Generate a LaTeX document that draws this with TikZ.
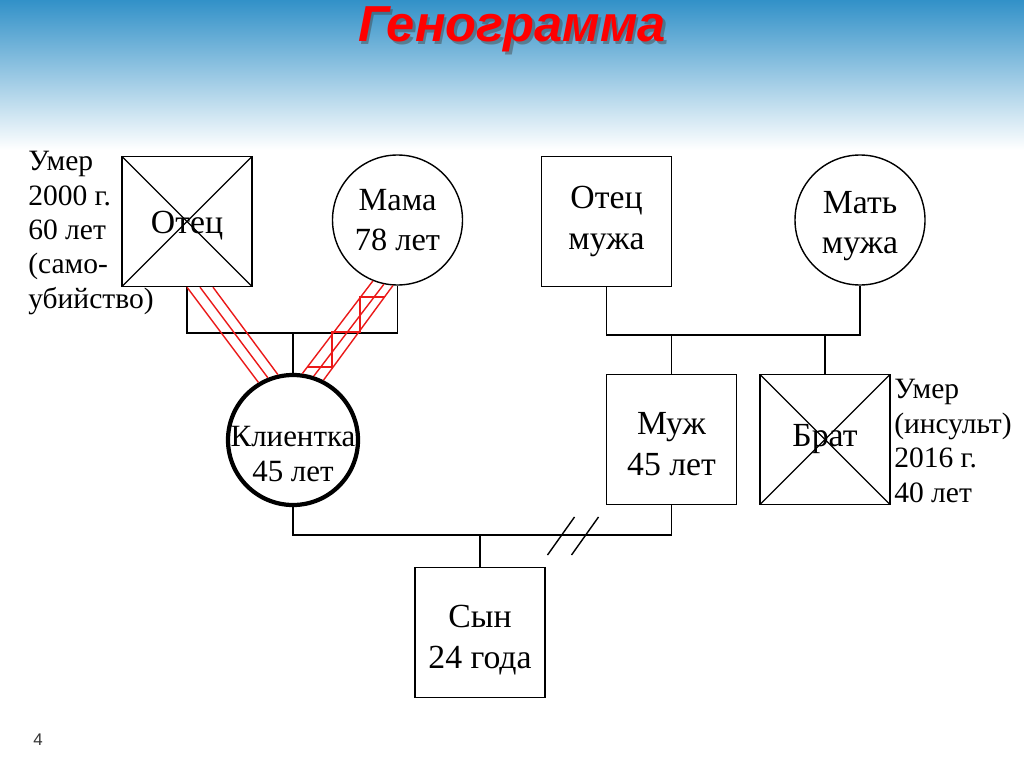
\documentclass[tikz,border=0pt]{standalone}
\usepackage{fontspec}
\setmainfont{Liberation Serif}
\newfontfamily\titlefont{Liberation Sans}
\definecolor{skytop}{RGB}{50,145,200}
\definecolor{skymid}{RGB}{145,203,232}
\definecolor{tiered}{RGB}{235,25,25}

\begin{document}
\begin{tikzpicture}[x=0.25mm, y=-0.25mm,
    male/.style={draw, line width=1pt, rectangle, minimum size=32.5mm, inner sep=0pt, align=center, font=\fontsize{24}{29}\selectfont},
    female/.style={male, circle},
    dead/.style={path picture={\draw[line width=0.8pt] (path picture bounding box.north west) -- (path picture bounding box.south east) (path picture bounding box.north east) -- (path picture bounding box.south west);}},
    persontext/.style={align=center, inner sep=0pt, font=\fontsize{24}{29}\selectfont},
    note/.style={align=left, inner sep=0pt, anchor=west, font=\fontsize{21}{24.5}\selectfont},
    link/.style={line width=1pt},
    conflict/.style={draw=tiered, line width=1pt}]
        % Slide background
        \useasboundingbox (0,0) rectangle (1024,767);
        \fill[white] (0,0) rectangle (1024,767);
        \shade[top color=skytop, middle color=skymid, bottom color=white] (0,0) rectangle (1024,150);
        \node[font=\titlefont\bfseries\itshape\fontsize{36}{40}\selectfont, text=black!75, opacity=0.45, anchor=base] (titleshadow) at (514.5,44.5) {Генограмма};
        \node[font=\titlefont\bfseries\itshape\fontsize{36}{40}\selectfont, text=red, anchor=base] (title) at (512,42) {Генограмма};

        % Family members
        \node[male, dead] (fa) at (187,221.5) {};
        \node[persontext] (fatext) at ([yshift=-1mm]fa.center) {Отец};
        \node[female, font=\fontsize{23}{29}\selectfont] (ma) at (397.5,220) {Мама\\78 лет};
        \node[female, line width=3pt] (cl) at (293,440) {};
        \node[persontext, font=\fontsize{22}{25}\selectfont] (cltext) at ([yshift=-3.5mm]cl.center) {Клиентка\\45 лет};
        \node[male] (hf) at (606.5,221.5) {Отец\\мужа};
        \node[female] (hm) at (860,220) {};
        \node[persontext] (hmtext) at ([yshift=-1.5mm]hm.center) {Мать\\мужа};
        \node[male] (hu) at (671.5,439.5) {};
        \node[persontext] (hutext) at ([yshift=-1.2mm]hu.center) {Муж\\45 лет};
        \node[male, dead] (br) at (825,439.5) {Брат};
        \node[male] (so) at (480,632.5) {};
        \node[persontext] (sotext) at ([yshift=-1.8mm]so.center) {Сын\\24 года};

        % Notes
        \node[note] (fanote) at (28,233) {Умер\\2000 г.\\60 лет\\(само-\\убийство)};
        \node[note] (brnote) at (894,441) {Умер\\(инсульт)\\2016 г.\\40 лет};

        % Family lines
        \coordinate (p1) at (293,333);
        \coordinate (p2) at (671.5,335);
        \coordinate (p3) at (480,535);
        \draw[link] (fa.south) |- (p1) -| (ma.south);
        \draw[link] (p1) -- (cl.north);
        \draw[link] (hf.south) |- (p2) -| (hm.south);
        \draw[link] (hu.north) -- (hu.north |- p2);
        \draw[link] (br.north) -- (br.north |- p2);
        \draw[link] (cl.south) |- (p3) -| (hu.south);
        \draw[link] (p3) -- (so.north);
        \foreach \x in {561,585} {
            \draw[link] (\x-13.5,555) -- (\x+13.5,517);
        }

        % Conflict lines
        \foreach \s/\e in {0/121, 3.25/112, 6.5/103} {
            \draw[conflict] ([xshift=\s mm]fa.south) -- (cl.\e);
        }
        \foreach \s/\e in {248/82, 258/72, 266/63} {
            \draw[conflict] (ma.\s) -- (cl.\e);
        }
        \draw[conflict] (384,297) -| (360,332) -| (332,367) -- (307,367);

        \node[font=\titlefont\fontsize{12}{14}\selectfont, text=black!80] (pagenum) at (38,740) {4};
    \end{tikzpicture}
\end{document}
